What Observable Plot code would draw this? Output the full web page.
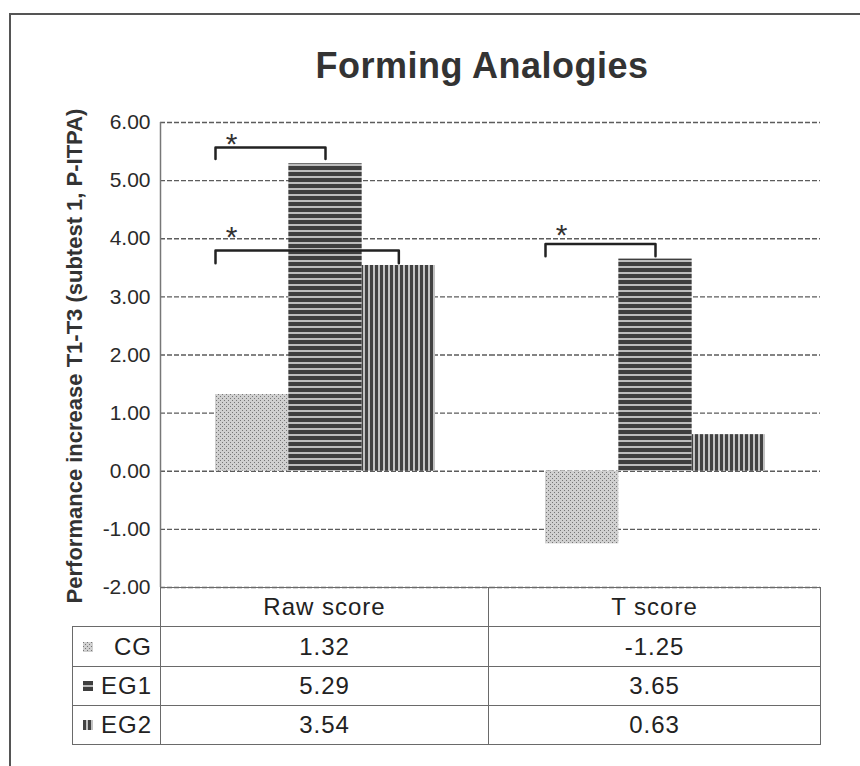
<!DOCTYPE html>
<html>
<head>
<meta charset="utf-8">
<script src="https://cdn.jsdelivr.net/npm/d3@7"></script>
<script src="https://cdn.jsdelivr.net/npm/@observablehq/plot@0.6"></script>
<style>
  body { margin: 0; background: #fff; font-family: "Liberation Sans", Arial, sans-serif; }
  #page { position: relative; width: 860px; height: 766px; overflow: hidden; background: #fff; }
  #frame { position: absolute; left: 9px; top: 13px; width: 900px; height: 800px;
           border-top: 2px solid #555; border-left: 2px solid #555; }
  #title { position: absolute; top: 48px; left: 232px; width: 500px; text-align: center;
           font-weight: bold; font-size: 36px; line-height: 36px; color: #333; letter-spacing: 0.5px; }
  #ylabel { position: absolute; left: -205px; top: 344px; width: 560px; height: 24px; line-height: 24px;
            transform: rotate(-90deg); transform-origin: center; text-align: center;
            font-weight: bold; font-size: 22px; white-space: nowrap; color: #333; }
  #chart { position: absolute; left: 0; top: 100px; }
  #table { position: absolute; left: 72px; top: 587px; border-collapse: collapse; table-layout: fixed; }
  #table td, #table th { border: 1.5px solid #6a6a6a; padding: 0; text-align: center; font-weight: normal;
           font-size: 24px; letter-spacing: 1px; color: #222; }
  #table td.blank { border: none; }
  .lc { display: flex; justify-content: space-between; align-items: center; padding: 0 8px 0 10px; }
  .lc svg { display: block; }
</style>
</head>
<body>
<svg width="0" height="0" style="position:absolute">
  <defs>
    <pattern id="patCG" width="4" height="4" patternUnits="userSpaceOnUse">
      <rect width="4" height="4" fill="#d0d0d0"/>
      <rect x="0" y="0" width="1" height="1" fill="#767676"/>
      <rect x="2" y="2" width="1" height="1" fill="#767676"/>
    </pattern>
    <pattern id="patEG1" width="8" height="6" patternUnits="userSpaceOnUse">
      <rect width="8" height="6" fill="#bcbcbc"/>
      <rect x="0" y="0" width="8" height="4" fill="#3e3e3e"/>
    </pattern>
    <pattern id="patEG2" width="5" height="8" patternUnits="userSpaceOnUse">
      <rect width="5" height="8" fill="#c2c2c2"/>
      <rect x="0" y="0" width="3" height="8" fill="#424242"/>
    </pattern>
  </defs>
</svg>
<div id="page">
  <div id="frame"></div>
  <div id="title">Forming Analogies</div>
  <div id="ylabel">Performance increase T1-T3 (subtest 1, P-ITPA)</div>
  <div id="chart"></div>
  <table id="table"></table>
</div>
<script>
// ---- data ----
const categories = ["Raw score", "T score"];
const groups = ["CG", "EG1", "EG2"];
const rawScoreValues = [1.32, 5.29, 3.54];
const tScoreValues = [-1.25, 3.65, 0.63];
const yTicks = [-2, -1, 0, 1, 2, 3, 4, 5, 6];
// significance brackets: from group's left edge to target group's centre
const bracketCats = ["Raw score", "Raw score", "T score"];
const bracketFrom = ["CG", "CG", "CG"];
const bracketTo = ["EG1", "EG2", "EG1"];
const bracketTop = [5.57, 3.80, 3.91];
const bracketFoot = [5.37, 3.58, 3.70];
const starLevel = [5.78, 4.18, 4.21];

// ---- build tables ----
const series = {"Raw score": rawScoreValues, "T score": tScoreValues};
const bars = categories.flatMap(cat => groups.map((g, gi) => ({cat, group: g, idx: gi, value: series[cat][gi]})));
const gIdx = g => groups.indexOf(g);
const brackets = bracketCats.map((cat, i) => ({
  id: i, cat, x1: gIdx(bracketFrom[i]), x2: gIdx(bracketTo[i]) + 0.5,
  top: bracketTop[i], foot: bracketFoot[i], star: starLevel[i]
}));
const bracketPts = brackets.flatMap(b => [
  {id: b.id, cat: b.cat, x: b.x1, y: b.foot},
  {id: b.id, cat: b.cat, x: b.x1, y: b.top},
  {id: b.id, cat: b.cat, x: b.x2, y: b.top},
  {id: b.id, cat: b.cat, x: b.x2, y: b.foot}
]);
const xDomain = [-0.75, groups.length + 0.75];

const chart = Plot.plot({
  width: 860, height: 500,
  marginTop: 22, marginBottom: 13, marginLeft: 160, marginRight: 40,
  style: {fontFamily: "Liberation Sans, Arial, sans-serif", fontSize: "21px", color: "#333", background: "transparent"},
  fx: {domain: categories, padding: 0, axis: null},
  x: {domain: xDomain, axis: null},
  y: {domain: [-2, 6], axis: null},
  color: {domain: groups, range: groups.map(g => `url(#pat${g})`)},
  marks: [
    Plot.gridY(yTicks, {stroke: "#4a4a4a", strokeOpacity: 0.9, strokeDasharray: "5,2", strokeWidth: 1.3}),
    Plot.rect(bars, {fx: "cat", x1: "idx", x2: d => d.idx + 1, y1: 0, y2: "value", fill: "group"}),
    Plot.line(bracketPts, {fx: "cat", x: "x", y: "y", z: "id", stroke: "#222", strokeWidth: 2.5}),
    Plot.text(brackets, {fx: "cat", x: d => d.x1 + 0.22, y: "star", text: () => "*", fontSize: 30, fill: "#333", dy: 9}),
    Plot.ruleX([{cat: categories[0], x: xDomain[0]}], {fx: "cat", x: "x", stroke: "#777", strokeWidth: 1.5}),
    Plot.axisY(yTicks, {tickSize: 0, tickPadding: 10, tickFormat: d => d.toFixed(2), fontSize: 21, fill: "#2a2a2a", label: null})
  ]
});
document.getElementById("chart").appendChild(chart);

// ---- data table ----
const rowH = [39, 40, 39, 39];
let html = `<colgroup><col style="width:88px"><col style="width:328px"><col style="width:332px"></colgroup>`;
html += `<tr style="height:${rowH[0]}px"><td class="blank"></td>${categories.map(c => `<th>${c}</th>`).join("")}</tr>`;
groups.forEach((g, gi) => {
  html += `<tr style="height:${rowH[gi + 1]}px"><td><div class="lc"><svg width="10" height="10"><rect width="10" height="10" fill="url(#pat${g})"/></svg><span>${g}</span></div></td>` +
    categories.map(c => `<td>${series[c][gi].toFixed(2)}</td>`).join("") + `</tr>`;
});
document.getElementById("table").innerHTML = html;
</script>
</body>
</html>
